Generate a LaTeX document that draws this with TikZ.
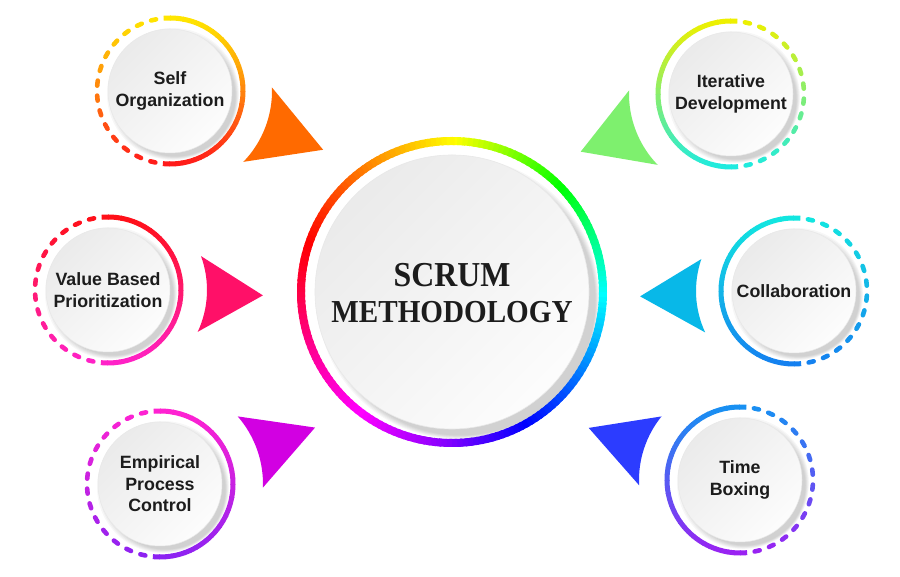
\documentclass[tikz,border=0pt]{standalone}
\usepackage{fontspec}
\setmainfont{Liberation Sans}
\newfontfamily\titlefont{Liberation Serif}[FakeStretch=0.91]
\usetikzlibrary{backgrounds}

\definecolor{soTop}{HTML}{FFE600}
\definecolor{soBot}{HTML}{FF1A1A}
\definecolor{idTop}{HTML}{EEF000}
\definecolor{idBot}{HTML}{1EEBE0}
\definecolor{vpTop}{HTML}{FF1018}
\definecolor{vpBot}{HTML}{FF22C8}
\definecolor{clTop}{HTML}{12E6E0}
\definecolor{clBot}{HTML}{1480F0}
\definecolor{epTop}{HTML}{FF22D2}
\definecolor{epBot}{HTML}{8C22F2}
\definecolor{tbTop}{HTML}{1890F2}
\definecolor{tbBot}{HTML}{9A22F2}
\definecolor{ptrOrange}{HTML}{FF6A00}
\definecolor{ptrGreen}{HTML}{7EF06E}
\definecolor{ptrPink}{HTML}{FF1068}
\definecolor{ptrCyan}{HTML}{08B8E8}
\definecolor{ptrPurple}{HTML}{D200E2}
\definecolor{ptrBlue}{HTML}{2C3CFF}
\definecolor{labelgray}{HTML}{1C1C1C}

\begin{document}
\begin{tikzpicture}[x=1pt, y=1pt,
    satdisc/.style={circle, minimum size=124, inner sep=0pt, align=center,
        top color=black!8, bottom color=black!1, shading angle=45,
        draw=black!9, line width=0.5,
        font=\bfseries\fontsize{17.8}{21.5}\selectfont, text=labelgray},
    maindisc/.style={circle, minimum size=274, inner sep=0pt,
        top color=black!8, bottom color=black!1, shading angle=45,
        draw=black!9, line width=0.6},
    titletext/.style={align=center, text=labelgray,
        font=\titlefont\bfseries\fontsize{32}{36}\selectfont}]

    \useasboundingbox (0,0) rectangle (900,577);

    % centre
    \node[maindisc] (scrum) at (452,285) {};
    \node[titletext] (scrumtitle) at (452,283.5) {{\fontsize{35}{36}\selectfont SCRUM}\\METHODOLOGY};

    % the six practices
    \node[satdisc] (selforg) at (170,486) {Self\\Organization};
    \node[satdisc] (iterdev) at (731,483) {Iterative\\Development};
    \node[satdisc] (valprio) at (108,287) {Value Based\\Prioritization};
    \node[satdisc] (collab) at (794,286) {Collaboration};
    \node[satdisc] (empproc) at (160,93) {Empirical\\Process\\Control};
    \node[satdisc] (timebox) at (740,97) {Time\\Boxing};

    % rainbow ring
    \foreach \t in {0,2,...,358} {
        \pgfmathparse{\t<90 ? 60+\t*4/3 : (\t<180 ? 90+\t : (\t<270 ? 270+(\t-180)*5/6 : 345+(\t-270)*5/6))}
        \pgfmathsetmacro\hue{mod(\pgfmathresult,360)}
        \definecolor{ringc}{Hsb}{\hue,1,1}
        \draw[ringc, line width=8, shift={(scrum)}] ({90-\t}:151) arc[start angle={90-\t}, end angle={87-\t}, radius=151];
    }

    % half solid, half dashed rings
    \foreach \sat/\ctop/\cbot/\side in {selforg/soTop/soBot/1, iterdev/idTop/idBot/-1,
            valprio/vpTop/vpBot/1, collab/clTop/clBot/-1,
            empproc/epTop/epBot/1, timebox/tbTop/tbBot/-1} {
        \foreach \i in {0,...,37} {
            \pgfmathsetmacro\ang{90+(\side)*(5-5*\i)}
            \pgfmathsetmacro\angend{90+(\side)*(5-5*\i-5.6)}
            \pgfmathsetmacro\mix{50*(1-sin(\ang))}
            \colorlet{segc}{\cbot!\mix!\ctop}
            \draw[segc, line width=5, shift={(\sat)}] (\ang:73) arc[start angle=\ang, end angle=\angend, radius=73];
        }
        \foreach \k in {0,...,13} {
            \pgfmathsetmacro\ang{90+(\side)*(13+11.8*\k)}
            \pgfmathsetmacro\mix{50*(1-sin(\ang))}
            \colorlet{segc}{\cbot!\mix!\ctop}
            \draw[segc, line width=4.6, line cap=round, shift={(\sat)}] ({\ang-2}:73) arc[start angle={\ang-2}, end angle={\ang+2}, radius=73];
        }
    }

    % pointers
    \fill[ptrOrange, shift={(selforg)}] (2:102) -- (-21:164) -- (-44:102) arc[start angle=-44, end angle=2, radius=102] -- cycle;
    \fill[ptrGreen, shift={(iterdev)}] (178:102) -- (201:161) -- (224:102) arc[start angle=224, end angle=178, radius=102] -- cycle;
    \fill[ptrPink, shift={(valprio)}] (20:99) -- (-2:155) -- (-25:99) arc[start angle=-25, end angle=20, radius=99] -- cycle;
    \fill[ptrCyan, shift={(collab)}] (161:98) -- (182:154) -- (205:98) arc[start angle=205, end angle=161, radius=98] -- cycle;
    \fill[ptrPurple, shift={(empproc)}] (41:103) -- (20:165) -- (-2:103) arc[start angle=-2, end angle=41, radius=103] -- cycle;
    \fill[ptrBlue, shift={(timebox)}] (141:101) -- (161:160) -- (183:101) arc[start angle=183, end angle=141, radius=101] -- cycle;

    % soft shadows
    \begin{scope}[on background layer]
        \fill[white] (0,0) rectangle (900,577);
        \foreach \sat/\rad/\off in {scrum/137/6, selforg/62/3, iterdev/62/3, valprio/62/3,
                collab/62/3, empproc/62/3, timebox/62/3} {
            \foreach \k in {0,...,5}
                \fill[black, opacity=0.03, shift={(\sat)}] ({\off+0.5*\k},{-\off-0.5*\k}) circle ({\rad+4-1.2*\k});
        }
    \end{scope}

\end{tikzpicture}
\end{document}
